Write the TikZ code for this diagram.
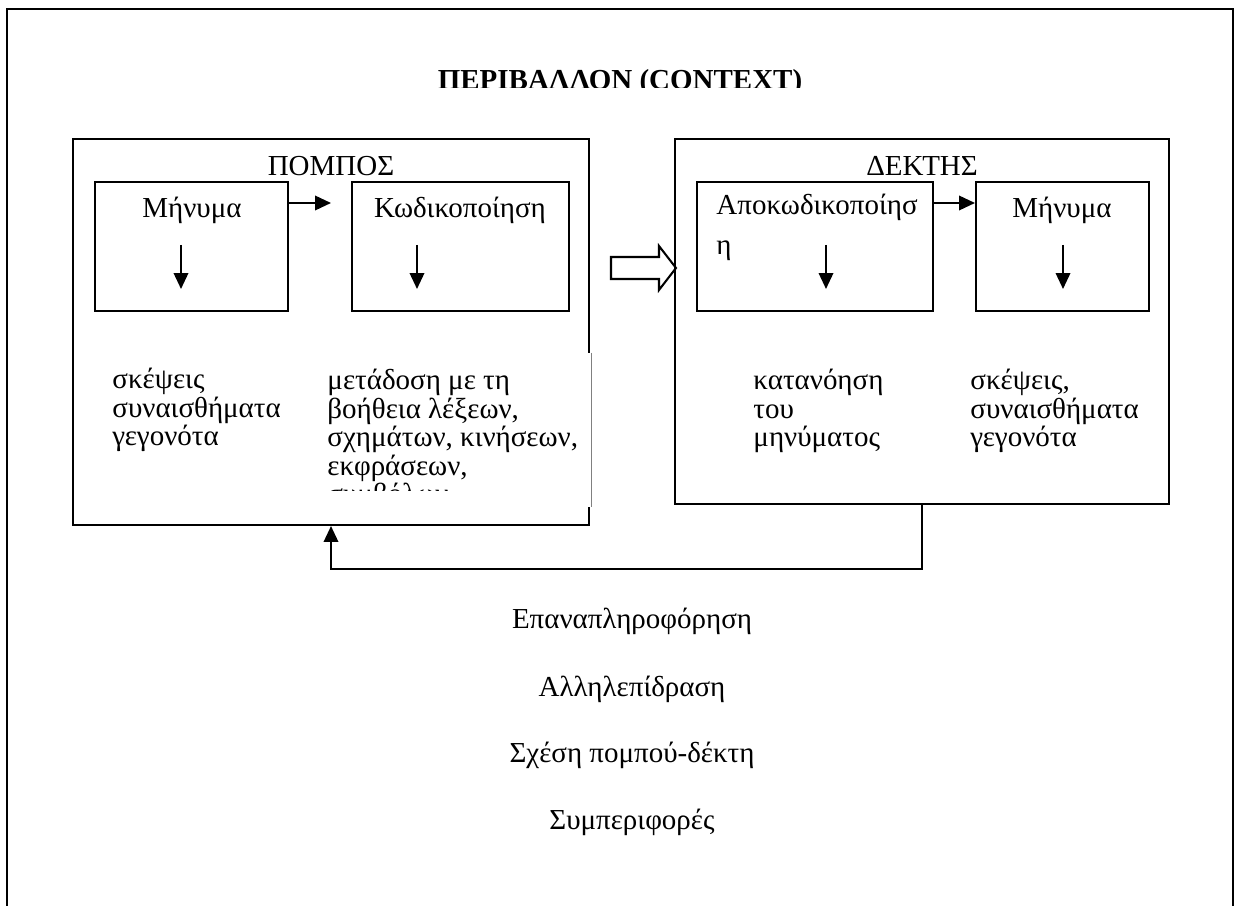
\documentclass[tikz,border=0pt]{standalone}
\usepackage{fontspec}
\setmainfont{Liberation Serif}
\usetikzlibrary{arrows.meta,fit,calc}
\tikzset{
  bigbox/.style   = {draw, line width=0.85pt, inner sep=0pt},
  smallbox/.style = {draw, line width=0.85pt, inner sep=0pt},
  boxtitle/.style = {font=\fontsize{12}{14}\selectfont, anchor=base, inner sep=0pt},
  notes/.style    = {font=\fontsize{12}{11.8}\selectfont, align=left,
                     anchor=base west, inner sep=0pt},
  arr/.style      = {line width=0.8pt, -{Triangle[length=6.6pt,width=6pt]}}
}
\begin{document}
\begin{tikzpicture}[x=0.414pt, y=-0.414pt]
  \useasboundingbox (0,0) rectangle (1235,906);
  \draw[line width=1.1pt] (7,906) -- (7,9) -- (1233,9) -- (1233,906);
  \begin{scope}
    \clip (0,0) rectangle (1235,88);
    \node[boxtitle, font=\fontsize{12}{14}\selectfont\bfseries] (title) at (620,90) {ΠΕΡΙΒΑΛΛΟΝ (CONTEXT)};
  \end{scope}

  \node[bigbox, fit={(73,139) (589,525)}] (pompos) {};
  \node[boxtitle] (pomposlbl) at (331,176) {ΠΟΜΠΟΣ};
  \node[smallbox, fit={(95,182) (288,311)}] (msgA) {};
  \node[smallbox, fit={(352,182) (569,311)}] (encode) {};
  \node[boxtitle] (msgAtxt) at (192,218) {Μήνυμα};
  \node[boxtitle] (encodetxt) at (460,218) {Κωδικοποίηση};
  \node[notes] (thoughtsA) at (112,446) {σκέψεις\\συναισθήματα\\γεγονότα};
  \node[fill=white, inner sep=0pt, fit={(320,353) (591,507)}] (meansbox) {};
  \draw[line width=0.3pt, gray] (meansbox.north east) -- (meansbox.south east);
  \begin{scope}
    \clip (meansbox.north west) rectangle ($(meansbox.south east)+(0,-17)$);
    \node[notes] (means) at (327,504) {μετάδοση με τη\\βοήθεια λέξεων,\\σχημάτων, κινήσεων,\\εκφράσεων,\\συμβόλων};
  \end{scope}

  \node[bigbox, fit={(675,139) (1169,504)}] (dektis) {};
  \node[boxtitle] (dektislbl) at (922,176) {ΔΕΚΤΗΣ};
  \node[smallbox, fit={(697,182) (933,311)}] (decode) {};
  \node[smallbox, fit={(976,182) (1149,311)}] (msgB) {};
  \node[notes] (decodetxt) at (716,255) {Αποκωδικοποίησ\\[4.8pt]η};
  \node[boxtitle] (msgBtxt) at (1062,218) {Μήνυμα};
  \node[notes] (understand) at (753,447) {κατανόηση\\του\\μηνύματος};
  \node[notes] (thoughtsB) at (970,447) {σκέψεις,\\συναισθήματα\\γεγονότα};

  \coordinate (encodein) at (331,203);
  \draw[arr] (msgA.east |- encodein) -- (encodein);
  \draw[arr] (decode.east |- encodein) -- (msgB.west |- encodein);
  \foreach \x in {181,417,826,1063}
    \draw[arr] (\x,245) -- (\x,289);
  \draw[line width=0.85pt] (611,257) -- (659,257) -- (659,246) -- (676,268)
    -- (659,290) -- (659,279) -- (611,279) -- cycle;
  \draw[arr] (dektis.south) -- ++(0,64) -| (pompos.south);

  \node[boxtitle] (feedback) at (632,628) {Επαναπληροφόρηση};
  \node[boxtitle] (interact) at (632,696) {Αλληλεπίδραση};
  \node[boxtitle] (relation) at (632,762) {Σχέση πομπού-δέκτη};
  \node[boxtitle] (behave) at (632,829) {Συμπεριφορές};
\end{tikzpicture}
\end{document}
